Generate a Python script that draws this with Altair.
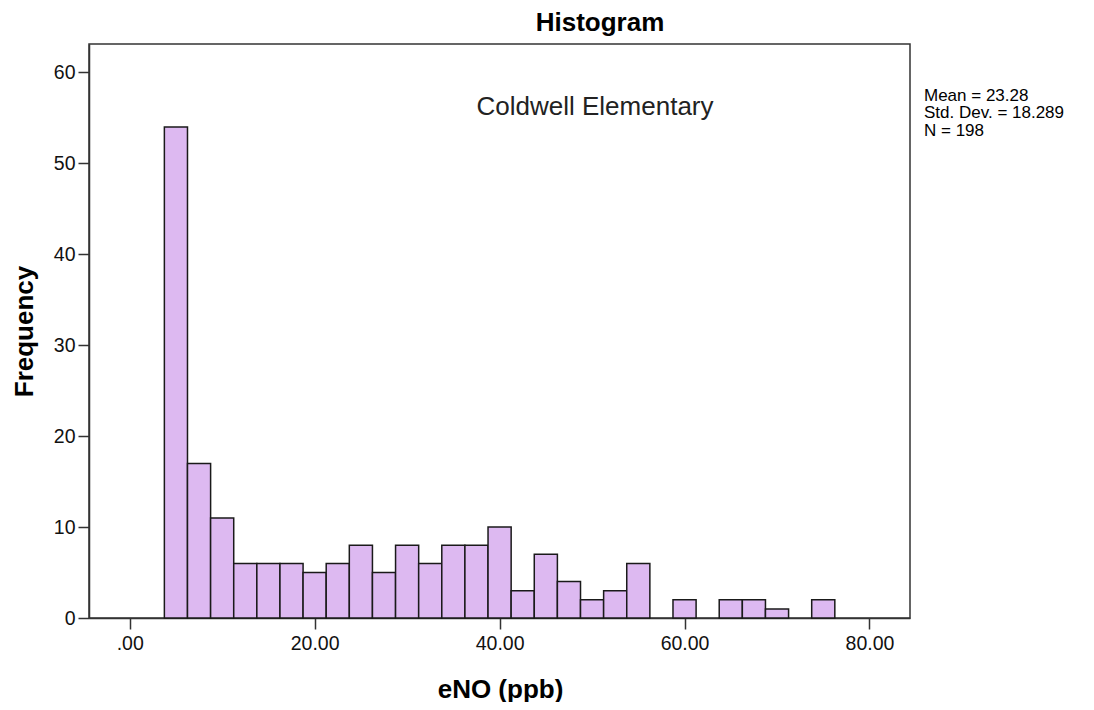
import altair as alt
import pandas as pd

# Histogram bins of eNO (ppb), bin width 2.5
bin_lower = [3.75, 6.25, 8.75, 11.25, 13.75, 16.25, 18.75, 21.25, 23.75, 26.25,
             28.75, 31.25, 33.75, 36.25, 38.75, 41.25, 43.75, 46.25, 48.75, 51.25,
             53.75, 56.25, 58.75, 61.25, 63.75, 66.25, 68.75, 71.25, 73.75]
bin_upper = [6.25, 8.75, 11.25, 13.75, 16.25, 18.75, 21.25, 23.75, 26.25, 28.75,
             31.25, 33.75, 36.25, 38.75, 41.25, 43.75, 46.25, 48.75, 51.25, 53.75,
             56.25, 58.75, 61.25, 63.75, 66.25, 68.75, 71.25, 73.75, 76.25]
counts = [54, 17, 11, 6, 6, 6, 5, 6, 8, 5,
          8, 6, 8, 8, 10, 3, 7, 4, 2, 3,
          6, 0, 2, 0, 2, 2, 1, 0, 2]

x_ticks = [0, 20, 40, 60, 80]
y_ticks = [0, 10, 20, 30, 40, 50, 60]

stats_lines = ["Mean = 23.28", "Std. Dev. = 18.289", "N = 198"]
chart_title = "Histogram"
subtitle = "Coldwell Elementary"

df = pd.DataFrame({"lo": bin_lower, "hi": bin_upper, "count": counts})
stats_df = pd.DataFrame({"line": stats_lines, "idx": list(range(len(stats_lines)))})

FONT = "Liberation Sans"
W, H = 821, 574

x_scale = alt.Scale(domain=[-4.4, 84.38], nice=False, zero=False)
y_scale = alt.Scale(domain=[0, 63.12], nice=False)

bars = alt.Chart(df).transform_filter("datum.count > 0").mark_bar(
    fill="#DDB9F1", stroke="#1a1a1a", strokeWidth=1.5
).encode(
    x=alt.X("lo:Q", scale=x_scale,
            axis=alt.Axis(values=x_ticks, title="eNO (ppb)",
                          labelExpr="datum.value == 0 ? '.00' : format(datum.value, '.2f')",
                          titleX=411, titleY=79, titleAnchor="start",
                          titleAlign="center", titleBaseline="alphabetic",
                          labelPadding=5)),
    x2="hi:Q",
    y=alt.Y("count:Q", scale=y_scale,
            axis=alt.Axis(values=y_ticks, title="Frequency", format="d",
                          titleX=-65, titleY=287, titleAngle=-90,
                          titleAlign="center", titleBaseline="middle",
                          labelPadding=3)),
    y2=alt.datum(0),
)

title_mark = alt.Chart(pd.DataFrame({"t": [chart_title]})).mark_text(
    font=FONT, fontSize=26, fontWeight="bold", color="#000", align="center", baseline="alphabetic"
).encode(text="t:N", x=alt.value(511), y=alt.value(-13))

sub_mark = alt.Chart(pd.DataFrame({"t": [subtitle]})).mark_text(
    font=FONT, fontSize=26, color="#222", align="center", baseline="alphabetic"
).encode(text="t:N", x=alt.value(506), y=alt.value(71))

stats_mark = alt.Chart(stats_df).mark_text(
    font=FONT, fontSize=17, color="#000", align="left", baseline="alphabetic"
).encode(
    text="line:N",
    x=alt.value(835),
    y=alt.Y("idx:Q", scale=alt.Scale(domain=[0, 2], range=[56.5, 92]), axis=None),
)

chart = alt.layer(bars, title_mark, sub_mark, stats_mark).resolve_scale(y="independent").properties(
    width=W, height=H,
    autosize=alt.AutoSizeParams(type="none"),
    padding={"left": 81, "top": 36, "right": 176, "bottom": 84},
    background="white",
).configure_view(
    stroke="#333", strokeWidth=1.5
).configure_axis(
    grid=False, domainColor="#333", domainWidth=1.5, tickColor="#333", tickWidth=1.5,
    tickSize=11, labelFont=FONT, labelFontSize=19.5, labelColor="#111",
    titleFont=FONT, titleFontSize=26, titleFontWeight="bold", titleColor="#000",
)

chart.save("out.html", embed_options={"renderer": "svg", "actions": False})
